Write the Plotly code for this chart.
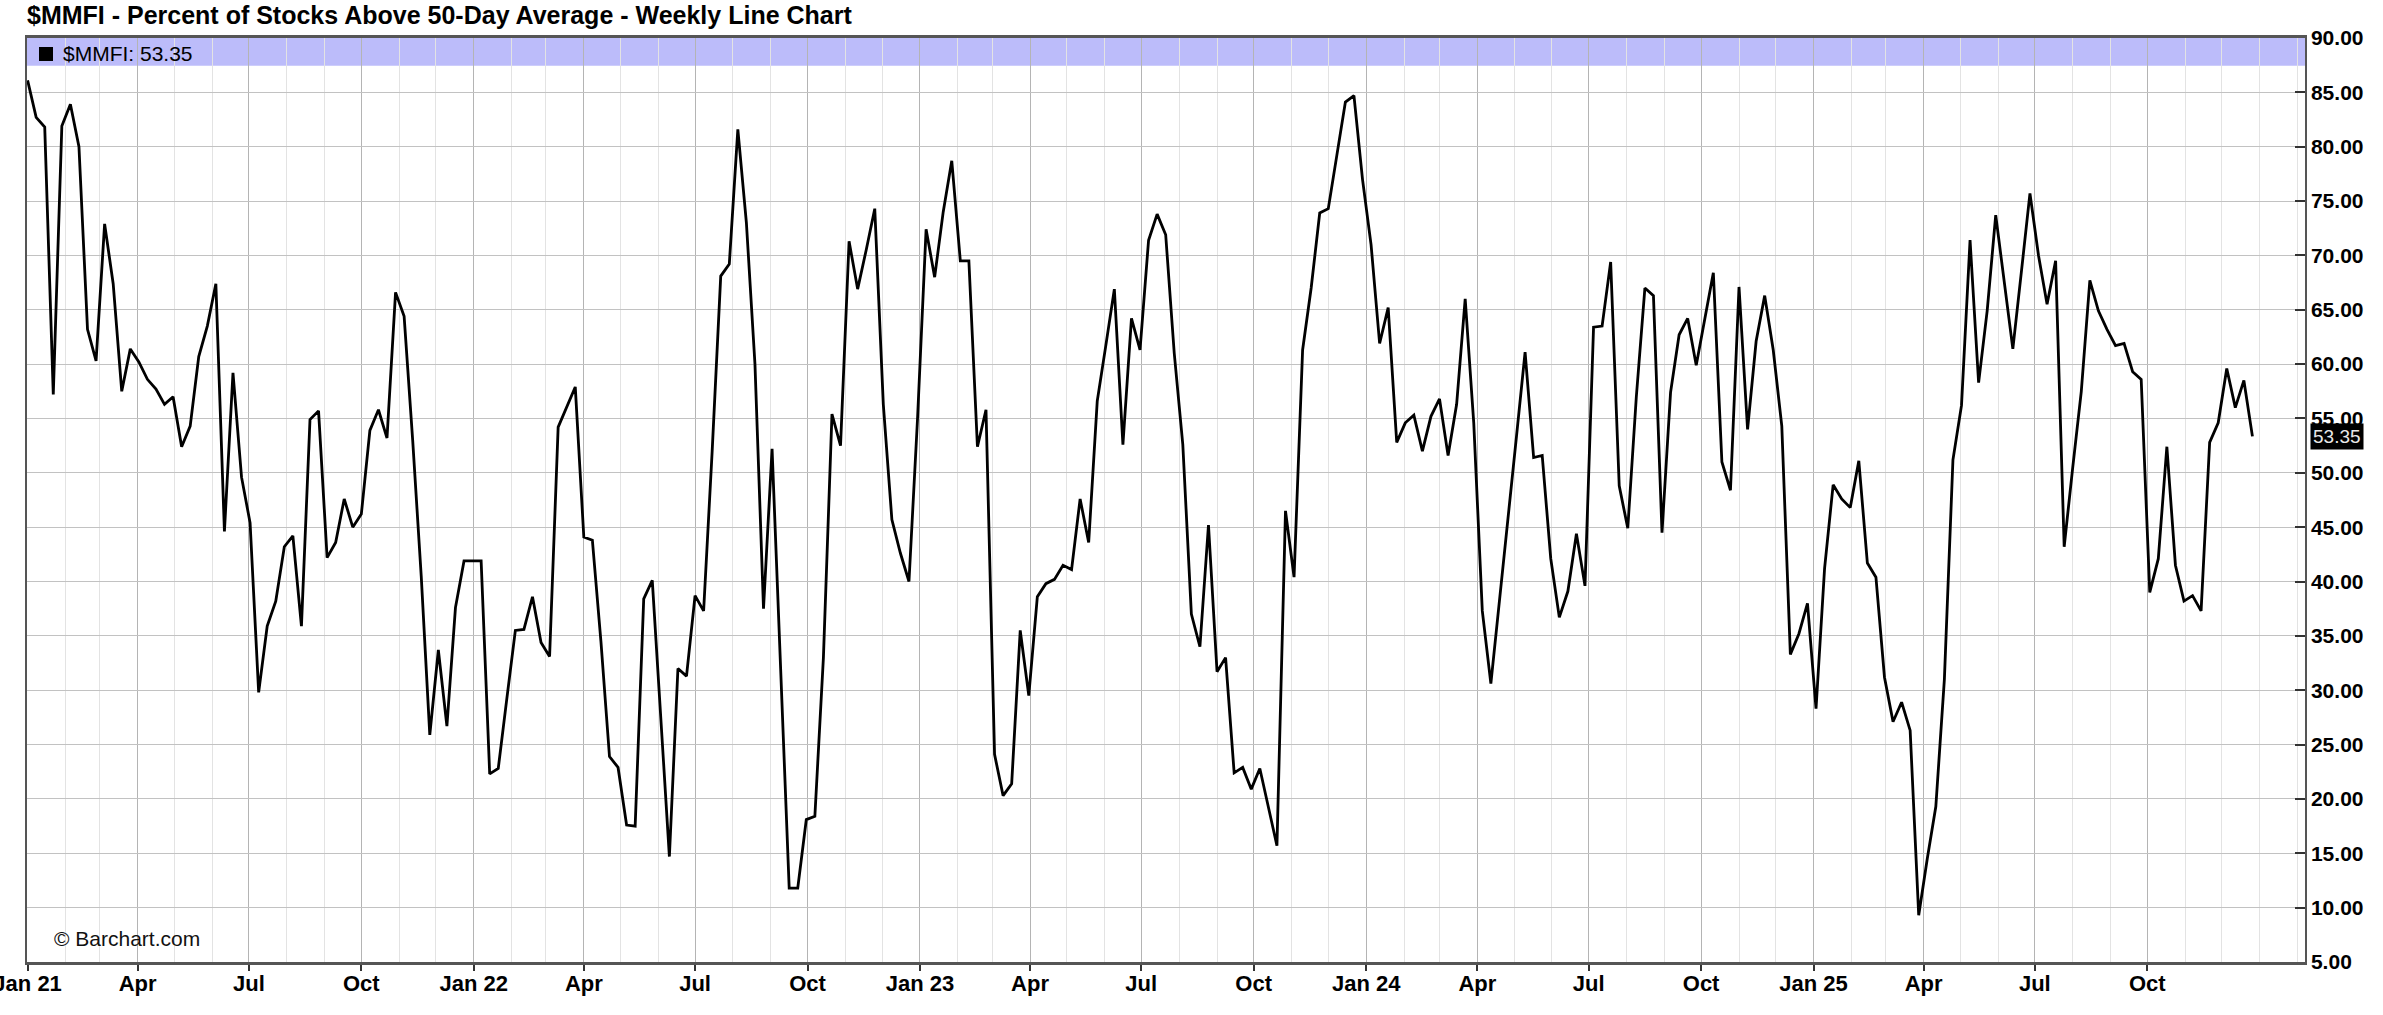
import pandas as pd
import plotly.graph_objects as go

# ---- data (weekly $MMFI values) ----
start_date = "2021-01-01"
mmfi = [
    86.1, 82.7, 81.8, 57.2, 81.9, 83.9, 80.0, 63.2, 60.3, 72.9,
    67.4, 57.5, 61.4, 60.2, 58.6, 57.7, 56.3, 57.0, 52.4, 54.3,
    60.7, 63.5, 67.4, 44.6, 59.2, 49.6, 45.4, 29.8, 35.9, 38.2,
    43.2, 44.2, 35.9, 54.9, 55.7, 42.2, 43.6, 47.6, 45.0, 46.2,
    53.9, 55.8, 53.2, 66.6, 64.4, 53.0, 40.5, 25.9, 33.7, 26.7,
    37.6, 41.9, 41.9, 41.9, 22.3, 22.8, 29.2, 35.5, 35.6, 38.6,
    34.4, 33.1, 54.2, 56.0, 57.9, 44.1, 43.8, 34.5, 23.9, 22.9,
    17.6, 17.5, 38.4, 40.1, 27.7, 14.7, 32.0, 31.3, 38.7, 37.3,
    52.0, 68.1, 69.2, 81.6, 73.0, 60.0, 37.5, 52.2, 32.0, 11.8,
    11.8, 18.1, 18.4, 33.0, 55.4, 52.5, 71.3, 66.9, 70.5, 74.3,
    56.3, 45.7, 42.6, 40.0, 55.0, 72.4, 68.0, 74.0, 78.7, 69.5,
    69.5, 52.4, 55.8, 24.1, 20.3, 21.4, 35.5, 29.5, 38.6, 39.8,
    40.2, 41.5, 41.1, 47.6, 43.6, 56.6, 61.7, 66.9, 52.6, 64.2,
    61.3, 71.4, 73.8, 71.9, 61.0, 52.6, 37.0, 34.0, 45.2, 31.7,
    33.0, 22.4, 22.9, 20.9, 22.8, 19.2, 15.7, 46.5, 40.4, 61.3,
    67.0, 73.9, 74.3, 79.2, 84.1, 84.7, 77.0, 71.0, 61.9, 65.2,
    52.8, 54.6, 55.3, 52.0, 55.2, 56.8, 51.6, 56.3, 66.0, 54.6,
    37.3, 30.6, 38.0, 45.7, 53.4, 61.1, 51.4, 51.6, 42.1, 36.7,
    39.1, 44.4, 39.6, 63.4, 63.5, 69.4, 48.8, 44.9, 57.0, 67.0,
    66.3, 44.5, 57.4, 62.7, 64.2, 59.9, 64.1, 68.4, 51.0, 48.4,
    67.1, 54.0, 62.1, 66.3, 61.3, 54.3, 33.3, 35.2, 38.0, 28.3,
    41.2, 48.9, 47.6, 46.8, 51.1, 41.7, 40.4, 31.2, 27.1, 28.9,
    26.3, 9.3, 14.5, 19.3, 31.0, 51.2, 56.2, 71.4, 58.3, 64.9,
    73.7, 67.6, 61.4, 68.5, 75.7, 70.0, 65.5, 69.5, 43.2, 50.5,
    57.5, 67.7, 64.9, 63.2, 61.7, 61.9, 59.3, 58.6, 39.0, 42.1,
    52.4, 41.5, 38.2, 38.7, 37.3, 52.8, 54.6, 59.6, 56.0, 58.5,
    53.35,
]
last_value = 53.35
dates = pd.date_range(start_date, periods=len(mmfi), freq="7D")

tick_dates = [
    "2021-01-01", "2021-04-01", "2021-07-01", "2021-10-01",
    "2022-01-01", "2022-04-01", "2022-07-01", "2022-10-01",
    "2023-01-01", "2023-04-01", "2023-07-01", "2023-10-01",
    "2024-01-01", "2024-04-01", "2024-07-01", "2024-10-01",
    "2025-01-01", "2025-04-01", "2025-07-01", "2025-10-01",
]
tick_labels = [
    "Jan 21", "Apr", "Jul", "Oct",
    "Jan 22", "Apr", "Jul", "Oct",
    "Jan 23", "Apr", "Jul", "Oct",
    "Jan 24", "Apr", "Jul", "Oct",
    "Jan 25", "Apr", "Jul", "Oct",
]
y_ticks = [5, 10, 15, 20, 25, 30, 35, 40, 45, 50, 55, 60, 65, 70, 75, 80, 85, 90]

FONT = "Liberation Sans, Arial, Helvetica, sans-serif"
W, H = 2383, 1015
L, R, T, B = 27, 78, 38, 53
PW, PH = W - L - R, H - T - B

fig = go.Figure()
fig.add_trace(go.Scatter(
    x=dates, y=mmfi, mode="lines",
    line=dict(color="#000000", width=2.8),
    hoverinfo="x+y", showlegend=False,
))

# legend band across the top of the plot
fig.add_shape(type="rect", xref="paper", yref="y", x0=0, x1=1, y0=87.45, y1=90,
              fillcolor="#bcbcfa", line=dict(width=0), layer="below")
fig.add_shape(type="rect", xref="paper", yref="paper",
              x0=12 / PW, x1=26 / PW, y0=1 - 23 / PH, y1=1 - 9 / PH,
              fillcolor="#000000", line=dict(width=0), layer="above")
fig.add_annotation(xref="paper", yref="paper", x=34 / PW, y=1 - 16 / PH,
                   xanchor="left", yanchor="middle", showarrow=False,
                   text="$MMFI: 53.35", font=dict(family=FONT, size=21, color="#000"))

# watermark
fig.add_annotation(xref="paper", yref="paper", x=25 / PW, y=(962 - 938) / PH,
                   xanchor="left", yanchor="middle", showarrow=False,
                   text="© Barchart.com", font=dict(family=FONT, size=21, color="#111"))

# current value label on right axis
fig.add_annotation(xref="paper", yref="y", x=1, y=last_value, xanchor="left", yanchor="middle",
                   xshift=5, showarrow=False, text="53.35", bgcolor="#000000",
                   borderpad=2, font=dict(family=FONT, size=19, color="#e8e8e8"))

fig.update_layout(
    width=W, height=H,
    margin=dict(l=L, r=R, t=T, b=B, pad=0),
    paper_bgcolor="#ffffff", plot_bgcolor="#ffffff",
    title=dict(text="<b>$MMFI - Percent of Stocks Above 50-Day Average - Weekly Line Chart</b>",
               x=L / W, xanchor="left", y=1 - 15 / H, yanchor="middle",
               font=dict(family=FONT, size=25, color="#000")),
    font=dict(family=FONT),
)
fig.update_xaxes(
    type="date", range=["2020-12-31 12:00", "2026-02-07"],
    tickmode="array", tickvals=tick_dates, ticktext=tick_labels,
    tickfont=dict(family=FONT, size=22, color="#000", weight="bold"),
    ticks="outside", ticklen=6, tickcolor="#333", tickwidth=1.5,
    ticklabelstandoff=-6, ticklabeloverflow="allow",
    showgrid=True, gridcolor="#b4b4b4", gridwidth=1.2,
    minor=dict(dtick="M1", tick0="2021-01-01", showgrid=True, gridcolor="#e3e3e3", gridwidth=1, ticks=""),
    showline=True, linecolor="#555", linewidth=2.5, mirror=True,
    zeroline=False, automargin=False, fixedrange=True,
)
fig.update_yaxes(
    side="right", range=[5, 90], tickmode="array", tickvals=y_ticks, tickformat=".2f",
    tickfont=dict(family=FONT, size=21, color="#000", weight="bold"),
    ticks="inside", ticklen=10, tickcolor="#333", tickwidth=1.5,
    showgrid=True, gridcolor="#c2c2c2", gridwidth=1.2,
    showline=True, linecolor="#555", linewidth=1.5, mirror=True,
    zeroline=False, automargin=False, fixedrange=True,
)

fig.write_html("out.html", config={"displayModeBar": False},
               post_script="document.body.style.margin='0';document.body.style.padding='0';")
